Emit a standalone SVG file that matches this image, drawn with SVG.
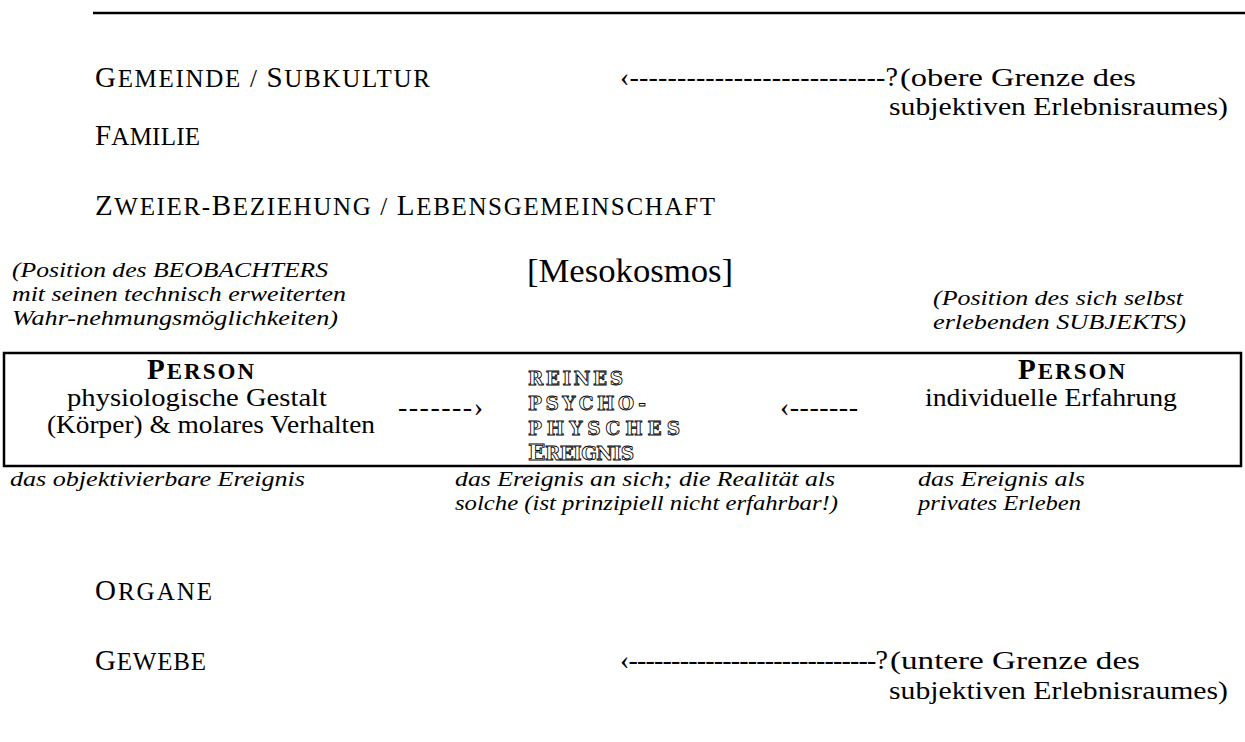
<svg xmlns="http://www.w3.org/2000/svg" width="1245" height="742" viewBox="0 0 1245 742">
<style>
text{font-family:"Liberation Serif","Times New Roman",serif;fill:#000}
.b{font-size:28px}
.bx{font-size:24.5px}
.r{font-size:26px}
.sc{font-size:25px}
.cap{font-size:29px}
.pb{font-size:23px;font-weight:bold}
.pcap{font-size:29px}
.it{font-size:21.5px;font-style:italic}
.meso{font-size:34px}
.ol{font-family:"DejaVu Serif",serif;font-size:18.5px;font-weight:bold;fill:#fff;stroke:#000;stroke-width:0.85}
.olc{font-size:23px}
</style>
<rect width="1245" height="742" fill="#fff"/>
<g id="rule"><line x1="93" y1="13" x2="1245" y2="13" stroke="#000" stroke-width="2.5"/></g>
<g id="levels-upper">
<text x="95" y="87" class="sc" textLength="335" lengthAdjust="spacing"><tspan class="cap">G</tspan>EMEINDE / <tspan class="cap">S</tspan>UBKULTUR</text>
<text x="95" y="145" class="sc" textLength="105" lengthAdjust="spacing"><tspan class="cap">F</tspan>AMILIE</text>
<text x="95" y="215" class="sc" textLength="620" lengthAdjust="spacing"><tspan class="cap">Z</tspan>WEIER-<tspan class="cap">B</tspan>EZIEHUNG / <tspan class="cap">L</tspan>EBENSGEMEINSCHAFT</text>
</g>
<g id="upper-limit">
<text x="620" y="86" class="b" textLength="278" lengthAdjust="spacing">‹---------------------------?</text>
<text x="900" y="86" class="r" textLength="236" lengthAdjust="spacingAndGlyphs">(obere Grenze des</text>
<text x="889" y="115" class="r" textLength="339" lengthAdjust="spacingAndGlyphs">subjektiven Erlebnisraumes)</text>
</g>
<g id="observer">
<text x="12" y="277" class="it" textLength="316" lengthAdjust="spacingAndGlyphs">(Position des BEOBACHTERS</text>
<text x="12" y="301" class="it" textLength="334" lengthAdjust="spacingAndGlyphs">mit seinen technisch erweiterten</text>
<text x="12" y="325" class="it" textLength="326" lengthAdjust="spacingAndGlyphs">Wahr-nehmungsmöglichkeiten)</text>
</g>
<g id="mesokosmos"><text x="527" y="282" class="meso" textLength="206" lengthAdjust="spacingAndGlyphs">[Mesokosmos]</text></g>
<g id="subject">
<text x="933" y="305" class="it" textLength="250" lengthAdjust="spacingAndGlyphs">(Position des sich selbst</text>
<text x="933" y="329" class="it" textLength="253" lengthAdjust="spacingAndGlyphs">erlebenden SUBJEKTS)</text>
</g>
<g id="box"><rect x="4" y="353" width="1237" height="113" fill="none" stroke="#000" stroke-width="2.5"/></g>
<g id="person-left">
<text x="147" y="379" class="pb" textLength="107" lengthAdjust="spacing"><tspan class="pcap">P</tspan>ERSON</text>
<text x="67" y="406" class="bx" textLength="260" lengthAdjust="spacingAndGlyphs">physiologische Gestalt</text>
<text x="47" y="433" class="bx" textLength="328" lengthAdjust="spacingAndGlyphs">(Körper) &amp; molares Verhalten</text>
</g>
<g id="event">
<text x="528" y="385" class="ol" textLength="95" lengthAdjust="spacing">REINES</text>
<text x="528" y="410" class="ol" textLength="118" lengthAdjust="spacing">PSYCHO-</text>
<text x="528" y="435" class="ol" textLength="152" lengthAdjust="spacing">PHYSCHES</text>
<text x="528" y="460" class="ol" textLength="106" lengthAdjust="spacing"><tspan class="olc">E</tspan>REIGNIS</text>
</g>
<g id="person-right">
<text x="1018" y="379" class="pb" textLength="107" lengthAdjust="spacing"><tspan class="pcap">P</tspan>ERSON</text>
<text x="925" y="406" class="bx" textLength="252" lengthAdjust="spacingAndGlyphs">individuelle Erfahrung</text>
</g>
<g id="connectors">
<text x="398" y="416" class="b" textLength="85" lengthAdjust="spacing">-------›</text>
<text x="780" y="416" class="b" textLength="78" lengthAdjust="spacing">‹-------</text>
</g>
<g id="captions">
<text x="10" y="486" class="it" textLength="295" lengthAdjust="spacingAndGlyphs">das objektivierbare Ereignis</text>
<text x="455" y="486" class="it" textLength="380" lengthAdjust="spacingAndGlyphs">das Ereignis an sich; die Realität als</text>
<text x="455" y="510" class="it" textLength="383" lengthAdjust="spacingAndGlyphs">solche (ist prinzipiell nicht erfahrbar!)</text>
<text x="918" y="486" class="it" textLength="167" lengthAdjust="spacingAndGlyphs">das Ereignis als</text>
<text x="918" y="510" class="it" textLength="163" lengthAdjust="spacingAndGlyphs">privates Erleben</text>
</g>
<g id="levels-lower">
<text x="95" y="600" class="sc" textLength="117" lengthAdjust="spacing"><tspan class="cap">O</tspan>RGANE</text>
<text x="95" y="670" class="sc" textLength="111" lengthAdjust="spacing"><tspan class="cap">G</tspan>EWEBE</text>
</g>
<g id="lower-limit">
<text x="620" y="669" class="b" textLength="268" lengthAdjust="spacing">‹-----------------------------?</text>
<text x="890" y="669" class="r" textLength="250" lengthAdjust="spacingAndGlyphs">(untere Grenze des</text>
<text x="889" y="699" class="r" textLength="339" lengthAdjust="spacingAndGlyphs">subjektiven Erlebnisraumes)</text>
</g>
</svg>
